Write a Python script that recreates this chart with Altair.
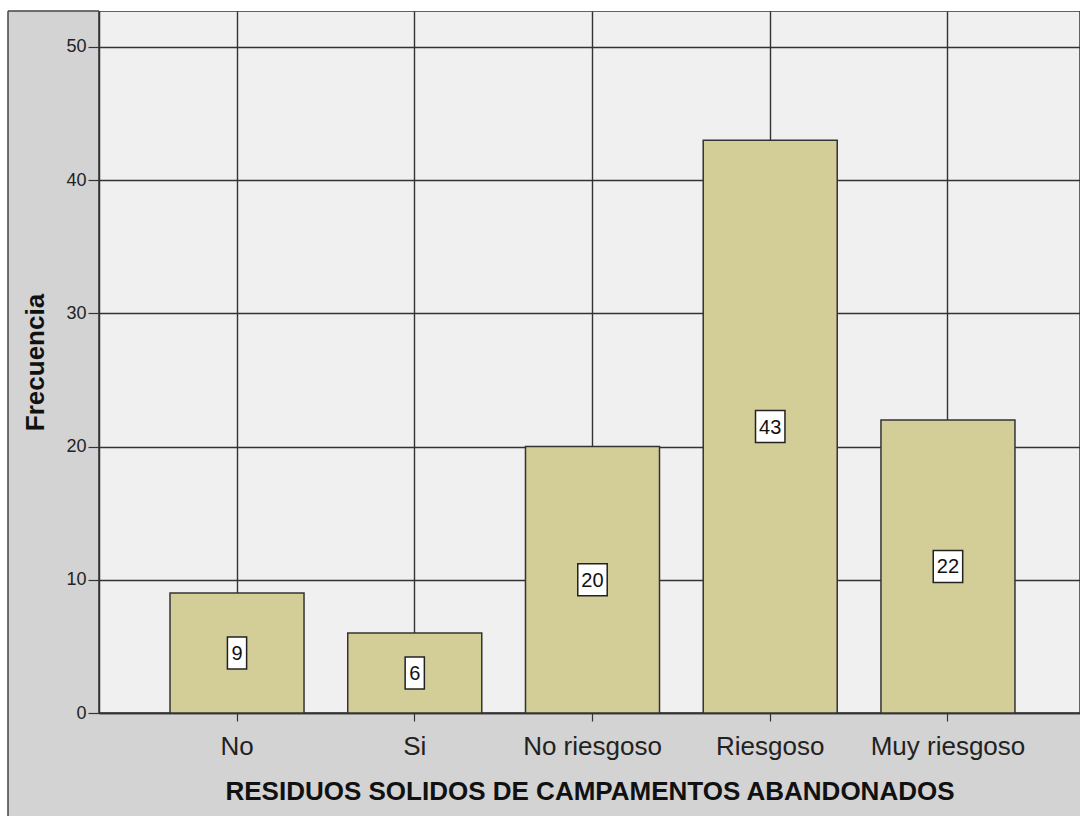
import altair as alt
import pandas as pd

categories = ["No", "Si", "No riesgoso", "Riesgoso", "Muy riesgoso"]
frequencies = [9, 6, 20, 43, 22]
y_ticks = [0, 10, 20, 30, 40, 50]

df = pd.DataFrame({"cat": categories, "freq": frequencies})
base = alt.Chart(df)

DARK = "#333333"
HATCH = "#d3d3d3"

x_scale = alt.Scale(paddingInner=0.246, paddingOuter=0.3827, align=0.522)
x_axis = alt.Axis(
    title="RESIDUOS SOLIDOS DE CAMPAMENTOS ABANDONADOS",
    labelAngle=0, bandPosition=0.5, grid=True, gridColor=DARK, gridWidth=1.4,
    domainColor=DARK, domainWidth=1.5, tickColor=DARK, tickSize=8, tickWidth=1.2,
    labelFont="Liberation Sans", labelFontSize=26, labelColor="#222222", labelPadding=12,
    titleFont="Liberation Sans", titleFontSize=26, titleFontWeight="bold", titleColor="#111111",
    titleBaseline="alphabetic", titleY=86,
)
y_scale = alt.Scale(domain=[0, 52.7], nice=False, zero=True)
y_axis = alt.Axis(
    title="Frecuencia", values=y_ticks, grid=True, gridColor=DARK, gridWidth=1.4,
    domainColor=DARK, domainWidth=1.5, tickColor=DARK, tickSize=11, tickWidth=1.2,
    labelFont="Liberation Sans", labelFontSize=18, labelColor="#222222", labelPadding=2,
    titleFont="Liberation Sans", titleFontSize=26, titleFontWeight="bold", titleColor="#111111",
    titleBaseline="alphabetic", titleAngle=270, titleX=-56, titleY=351,
)

x_enc = alt.X("cat:N", sort=categories, scale=x_scale, axis=x_axis)

dummy = alt.Chart(alt.Data(values=[{"k": 1}]))
white_left = dummy.mark_rect(fill="white").encode(
    x=alt.value(-99), x2=alt.value(-91), y=alt.value(-11), y2=alt.value(805))
white_top = dummy.mark_rect(fill="white").encode(
    x=alt.value(-99), x2=alt.value(981), y=alt.value(-11), y2=alt.value(0))
frame_left = dummy.mark_rule(color="#444444", strokeWidth=1.5).encode(
    x=alt.value(-91), y=alt.value(0), y2=alt.value(805))
frame_top = dummy.mark_rule(color="#444444", strokeWidth=1.5).encode(
    x=alt.value(-91), x2=alt.value(0), y=alt.value(0))

bars = base.mark_bar(fill="#d3ce97", stroke=DARK, strokeWidth=1.5).encode(
    x=x_enc,
    y=alt.Y("freq:Q", scale=y_scale, axis=y_axis),
)

narrow = "M-0.6,-1H0.6V1H-0.6Z"
wide = "M-0.92,-1H0.92V1H-0.92Z"

boxes = base.transform_calculate(mid="datum.freq / 2").mark_point(
    filled=True, fill="white", stroke="#222222", strokeWidth=1.5,
    opacity=1, fillOpacity=1, size=1024,
).encode(
    x=x_enc,
    y=alt.Y("mid:Q", scale=y_scale, axis=y_axis),
    shape=alt.condition("datum.freq < 10", alt.value(narrow), alt.value(wide)),
)

labels = base.transform_calculate(mid="datum.freq / 2").mark_text(
    font="Liberation Sans", fontSize=20, color="#111111", baseline="middle", dy=1,
).encode(
    x=x_enc,
    y=alt.Y("mid:Q", scale=y_scale, axis=y_axis),
    text=alt.Text("freq:Q"),
)

chart = alt.layer(
    white_left, white_top, frame_left, frame_top, bars, boxes, labels
).properties(
    width=981, height=702,
    padding={"left": 99, "top": 11, "right": 0, "bottom": 103},
    autosize=alt.AutoSizeParams(type="none"),
    background=HATCH,
).configure_view(
    fill="#f0f0f0", stroke=DARK, strokeWidth=1.5,
)

chart.save("out.html", embed_options={"renderer": "svg", "actions": False})
